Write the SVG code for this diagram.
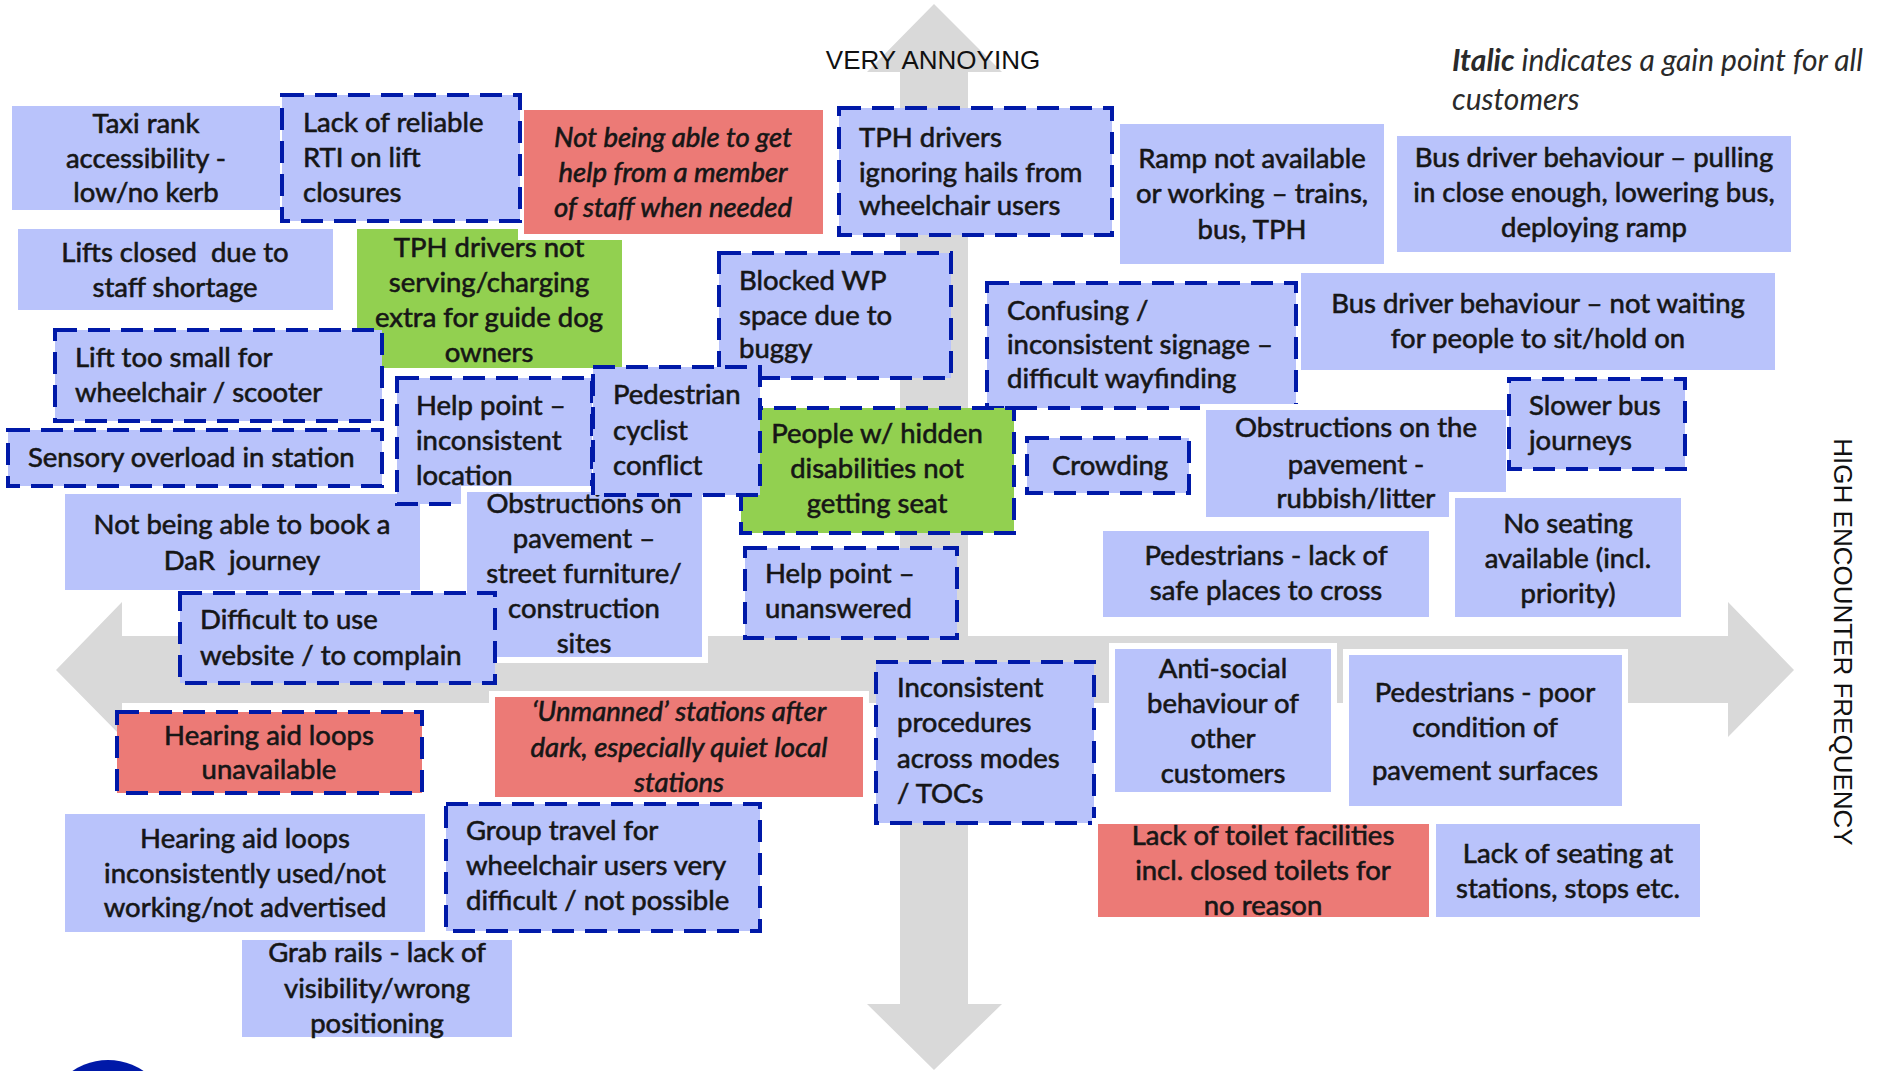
<svg xmlns="http://www.w3.org/2000/svg" width="1883" height="1071" viewBox="0 0 1883 1071">
<style>
.ax{fill:#D9D9D9}
.b{fill:#B9C3FB;stroke:#fff;stroke-width:12;paint-order:stroke}
.r{fill:#EC7A76;stroke:#fff;stroke-width:12;paint-order:stroke}
.g{fill:#92D050;stroke:#fff;stroke-width:12;paint-order:stroke}
.db{fill:#B9C3FB}
.d{stroke:#0019A8;stroke-width:4;stroke-dasharray:22 11;paint-order:normal}
.t{font-family:Lato,"Liberation Sans",sans-serif;font-size:27.5px;fill:#161616;stroke:#161616;stroke-width:0.6px}
.c{text-anchor:middle}
.i{font-style:italic}
.note{font-family:Lato,"Liberation Sans",sans-serif;font-size:30px;fill:#2a2a2a;font-style:italic}
.lab{font-family:"Liberation Sans",Arial,sans-serif;font-size:26px;fill:#111}
</style>
<rect width="1883" height="1071" fill="#fff"/>
<g id="connectors">
<polygon class="ax" points="934,4 1002,72 968,72 968,636 1728,636 1728,602 1794,670 1728,737 1728,703 968,703 968,1004 1002,1004 934,1070 867,1004 900,1004 900,703 122,703 122,737 56,670 122,602 122,636 900,636 900,72 867,72"/>
</g>
<g id="labels">
<text class="lab c" x="933" y="69">VERY ANNOYING</text>
<text class="lab c" transform="translate(1834,642) rotate(90)">HIGH ENCOUNTER FREQUENCY</text>
<text class="note" x="1452" y="71"><tspan font-weight="bold">Italic</tspan> indicates a gain point for all<tspan x="1452" y="110">customers</tspan></text>
</g>
<g id="n-taxi"><rect class="b" x="12" y="106" width="268" height="104"/><text class="t c"><tspan x="146" y="133">Taxi rank</tspan><tspan x="146" y="168">accessibility -</tspan><tspan x="146" y="202">low/no kerb</tspan></text></g>
<g id="n-lifts-closed"><rect class="b" x="18" y="229" width="315" height="81"/><text class="t c" xml:space="preserve"><tspan x="175" y="262">Lifts closed  due to</tspan><tspan x="175" y="297">staff shortage</tspan></text></g>
<g id="n-tph-guide"><rect class="g" x="357" y="229" width="265" height="139"/><text class="t c"><tspan x="489" y="257">TPH drivers not</tspan><tspan x="489" y="292">serving/charging</tspan><tspan x="489" y="327">extra for guide dog</tspan><tspan x="489" y="362">owners</tspan></text></g>
<g id="n-staff-help"><rect class="r" x="524" y="110" width="299" height="124"/><text class="t c i"><tspan x="673" y="147">Not being able to get</tspan><tspan x="673" y="182">help from a member</tspan><tspan x="673" y="217">of staff when needed</tspan></text></g>
<g id="n-rti"><rect class="db d" x="282" y="95" width="238" height="126"/><text class="t"><tspan x="303" y="132">Lack of reliable</tspan><tspan x="303" y="167">RTI on lift</tspan><tspan x="303" y="202">closures</tspan></text></g>
<g id="n-ramp"><rect class="b" x="1120" y="124" width="264" height="140"/><text class="t c"><tspan x="1252" y="168">Ramp not available</tspan><tspan x="1252" y="203">or working – trains,</tspan><tspan x="1252" y="239">bus, TPH</tspan></text></g>
<g id="n-tph-hails"><rect class="db d" x="839" y="108" width="273" height="127"/><text class="t"><tspan x="859" y="147">TPH drivers</tspan><tspan x="859" y="182">ignoring hails from</tspan><tspan x="859" y="215">wheelchair users</tspan></text></g>
<g id="n-bus-pulling"><rect class="b" x="1397" y="136" width="394" height="116"/><text class="t c"><tspan x="1594" y="167">Bus driver behaviour – pulling</tspan><tspan x="1594" y="202">in close enough, lowering bus,</tspan><tspan x="1594" y="237">deploying ramp</tspan></text></g>
<g id="n-bus-waiting"><rect class="b" x="1301" y="273" width="474" height="97"/><text class="t c"><tspan x="1538" y="313">Bus driver behaviour – not waiting</tspan><tspan x="1538" y="348">for people to sit/hold on</tspan></text></g>
<g id="n-confusing"><rect class="db d" x="987" y="283" width="309" height="125"/><text class="t"><tspan x="1007" y="320">Confusing /</tspan><tspan x="1007" y="354">inconsistent signage –</tspan><tspan x="1007" y="388">difficult wayfinding</tspan></text></g>
<g id="n-lift-small"><rect class="db d" x="55" y="330" width="327" height="91"/><text class="t"><tspan x="75" y="367">Lift too small for</tspan><tspan x="75" y="402">wheelchair / scooter</tspan></text></g>
<g id="n-sensory"><rect class="db d" x="8" y="430" width="374" height="56"/><text class="t" x="28" y="467">Sensory overload in station</text></g>
<g id="n-dar"><rect class="b" x="65" y="494" width="355" height="96"/><text class="t c" xml:space="preserve"><tspan x="242" y="534">Not being able to book a</tspan><tspan x="242" y="570">DaR  journey</tspan></text></g>
<g id="n-help-location"><rect class="db d" x="397" y="378" width="195" height="126"/><text class="t"><tspan x="416" y="415">Help point –</tspan><tspan x="416" y="450">inconsistent</tspan><tspan x="416" y="485">location</tspan></text></g>
<g id="n-obstructions-street"><rect class="b" x="467" y="492" width="235" height="165"/><text class="t c"><tspan x="584" y="513">Obstructions on</tspan><tspan x="584" y="548">pavement –</tspan><tspan x="584" y="583">street furniture/</tspan><tspan x="584" y="618">construction</tspan><tspan x="584" y="653">sites</tspan></text></g>
<g id="n-blocked-wp"><rect class="db d" x="719" y="253" width="232" height="125"/><text class="t"><tspan x="739" y="290">Blocked WP</tspan><tspan x="739" y="325">space due to</tspan><tspan x="739" y="358">buggy</tspan></text></g>
<g id="n-hidden"><rect class="g d" x="741" y="408" width="273" height="125"/><text class="t c"><tspan x="877" y="443">People w/ hidden</tspan><tspan x="877" y="478">disabilities not</tspan><tspan x="877" y="513">getting seat</tspan></text></g>
<g id="n-ped-cyclist"><rect class="db d" x="593" y="367" width="167" height="128"/><text class="t"><tspan x="613" y="404">Pedestrian</tspan><tspan x="613" y="440">cyclist</tspan><tspan x="613" y="475">conflict</tspan></text></g>
<g id="n-difficult"><rect class="db d" x="180" y="593" width="315" height="90"/><text class="t"><tspan x="200" y="629">Difficult to use</tspan><tspan x="200" y="665">website / to complain</tspan></text></g>
<g id="n-help-unanswered"><rect class="db d" x="745" y="548" width="212" height="90"/><text class="t"><tspan x="765" y="583">Help point –</tspan><tspan x="765" y="618">unanswered</tspan></text></g>
<g id="n-crowding"><rect class="db d" x="1027" y="438" width="162" height="55"/><text class="t" x="1052" y="475">Crowding</text></g>
<g id="n-obstructions-rubbish"><rect class="b" x="1206" y="410" width="300" height="107"/><text class="t c"><tspan x="1356" y="437">Obstructions on the</tspan><tspan x="1356" y="474">pavement -</tspan><tspan x="1356" y="508">rubbish/litter</tspan></text></g>
<g id="n-slower-bus"><rect class="db d" x="1509" y="379" width="176" height="90"/><text class="t"><tspan x="1529" y="415">Slower bus</tspan><tspan x="1529" y="450">journeys</tspan></text></g>
<g id="n-no-seating"><rect class="b" x="1455" y="498" width="226" height="119"/><text class="t c"><tspan x="1568" y="533">No seating</tspan><tspan x="1568" y="568">available (incl.</tspan><tspan x="1568" y="603">priority)</tspan></text></g>
<g id="n-ped-lack"><rect class="b" x="1103" y="531" width="326" height="86"/><text class="t c"><tspan x="1266" y="565">Pedestrians - lack of</tspan><tspan x="1266" y="600">safe places to cross</tspan></text></g>
<g id="n-hearing-unavailable"><rect class="r d" x="117" y="712" width="305" height="81"/><text class="t c"><tspan x="269" y="745">Hearing aid loops</tspan><tspan x="269" y="779">unavailable</tspan></text></g>
<g id="n-unmanned"><rect class="r" x="495" y="697" width="368" height="100"/><text class="t c i"><tspan x="679" y="721">‘Unmanned’ stations after</tspan><tspan x="679" y="757">dark, especially quiet local</tspan><tspan x="679" y="792">stations</tspan></text></g>
<g id="n-inconsistent"><rect class="db d" x="876" y="662" width="218" height="161"/><text class="t"><tspan x="897" y="697">Inconsistent</tspan><tspan x="897" y="732">procedures</tspan><tspan x="897" y="768">across modes</tspan><tspan x="897" y="803">/ TOCs</tspan></text></g>
<g id="n-anti-social"><rect class="b" x="1115" y="649" width="216" height="143"/><text class="t c"><tspan x="1223" y="678">Anti-social</tspan><tspan x="1223" y="713">behaviour of</tspan><tspan x="1223" y="748">other</tspan><tspan x="1223" y="783">customers</tspan></text></g>
<g id="n-ped-poor"><rect class="b" x="1349" y="655" width="273" height="151"/><text class="t c"><tspan x="1485" y="702">Pedestrians - poor</tspan><tspan x="1485" y="737">condition of</tspan><tspan x="1485" y="780">pavement surfaces</tspan></text></g>
<g id="n-toilet"><rect class="r" x="1098" y="824" width="331" height="93"/><text class="t c"><tspan x="1263" y="845">Lack of toilet facilities</tspan><tspan x="1263" y="880">incl. closed toilets for</tspan><tspan x="1263" y="915">no reason</tspan></text></g>
<g id="n-lack-seating"><rect class="b" x="1436" y="824" width="264" height="93"/><text class="t c"><tspan x="1568" y="863">Lack of seating at</tspan><tspan x="1568" y="898">stations, stops etc.</tspan></text></g>
<g id="n-hearing-inconsistent"><rect class="b" x="65" y="814" width="360" height="118"/><text class="t c"><tspan x="245" y="848">Hearing aid loops</tspan><tspan x="245" y="883">inconsistently used/not</tspan><tspan x="245" y="917">working/not advertised</tspan></text></g>
<g id="n-group-travel"><rect class="db d" x="446" y="804" width="314" height="127"/><text class="t"><tspan x="466" y="840">Group travel for</tspan><tspan x="466" y="875">wheelchair users very</tspan><tspan x="466" y="910">difficult / not possible</tspan></text></g>
<g id="n-grab-rails"><rect class="b" x="242" y="940" width="270" height="97"/><text class="t c"><tspan x="377" y="962">Grab rails - lack of</tspan><tspan x="377" y="998">visibility/wrong</tspan><tspan x="377" y="1033">positioning</tspan></text></g>
<circle cx="108" cy="1123" r="63" fill="#0019A8"/>
</svg>
